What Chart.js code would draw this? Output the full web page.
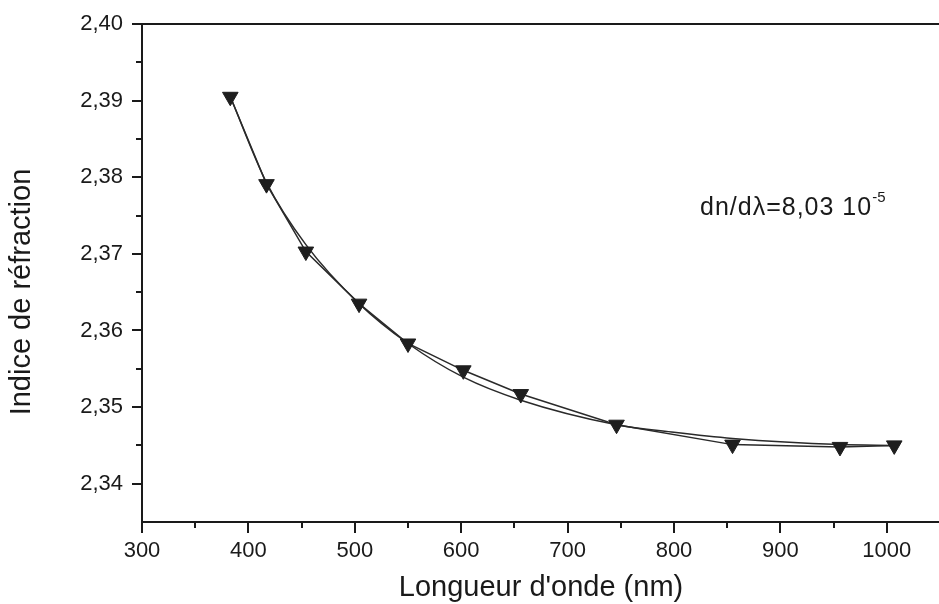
<!DOCTYPE html>
<html><head><meta charset="utf-8">
<script src="https://cdn.jsdelivr.net/npm/chart.js@4/dist/chart.umd.min.js"></script>
<style>
html,body{margin:0;padding:0;background:#fff;overflow:hidden;width:939px;height:604px}
#wrap{position:relative;width:950px;height:604px}
canvas{display:block}
</style></head>
<body><div id="wrap"><canvas id="c" width="950" height="604"></canvas></div>
<script>
// measured data (wavelength in nm, refractive index)
const wavelengths = [383, 417, 454, 504, 550, 602, 656, 746, 855, 956, 1007];
const refractiveIndex = [2.3905, 2.3791, 2.3703, 2.3635, 2.3583, 2.3548, 2.3517, 2.3477, 2.3451, 2.3448, 2.3450];
// fitted curve
const fitWavelengths = [383, 417, 454, 504, 550, 602, 656, 746, 800, 855, 956, 1007];
const fitIndex = [2.3905, 2.3793, 2.3712, 2.3635, 2.3583, 2.3539, 2.3509, 2.3477, 2.3467, 2.3459, 2.3451, 2.3450];
// axes
const xTicks = [300, 400, 500, 600, 700, 800, 900, 1000];
const xMinorTicks = [350, 450, 550, 650, 750, 850, 950, 1050];
const yTicks = [2.34, 2.35, 2.36, 2.37, 2.38, 2.39, 2.40];
const yMinorTicks = [2.345, 2.355, 2.365, 2.375, 2.385, 2.395];
const xTitle = "Longueur d'onde (nm)";
const yTitle = "Indice de réfraction";
const annotationMain = "dn/dλ=8,03 10";
const annotationSup = "-5";

const INK = '#1a1a1a';
const FONT = '"Liberation Sans", Arial, sans-serif';

const extrasPlugin = {
  id: 'extras',
  afterDraw(chart) {
    const ctx = chart.ctx;
    const xs = chart.scales.x, ys = chart.scales.y;
    const ca = chart.chartArea;
    ctx.save();
    ctx.strokeStyle = INK;
    ctx.lineWidth = 2;
    ctx.beginPath();
    xMinorTicks.forEach(v => {
      const px = Math.round(xs.getPixelForValue(v));
      ctx.moveTo(px, ca.bottom);
      ctx.lineTo(px, ca.bottom + 6);
    });
    yMinorTicks.forEach(v => {
      const py = Math.round(ys.getPixelForValue(v));
      ctx.moveTo(ca.left, py);
      ctx.lineTo(ca.left - 6, py);
    });
    ctx.stroke();
    // y title
    ctx.fillStyle = INK;
    ctx.font = '29px ' + FONT;
    ctx.textAlign = 'center';
    ctx.textBaseline = 'middle';
    ctx.translate(22, 292);
    ctx.rotate(-Math.PI / 2);
    ctx.fillText(yTitle, 0, 0);
    ctx.restore();
    // annotation
    ctx.save();
    ctx.fillStyle = INK;
    ctx.font = '25px ' + FONT;
    ctx.textAlign = 'left';
    ctx.textBaseline = 'alphabetic';
    try { ctx.letterSpacing = '1px'; } catch (e) {}
    ctx.fillText(annotationMain, 700, 215);
    const w = ctx.measureText(annotationMain).width;
    ctx.font = '15px ' + FONT;
    try { ctx.letterSpacing = '0px'; } catch (e) {}
    ctx.fillText(annotationSup, 700 + w, 202);
    ctx.restore();
  }
};

new Chart(document.getElementById('c'), {
  type: 'scatter',
  data: {
    datasets: [
      {
        label: 'fit',
        data: fitWavelengths.map((x, i) => ({x, y: fitIndex[i]})),
        showLine: true,
        borderColor: '#2a2a2a',
        borderWidth: 1.5,
        pointRadius: 0,
        cubicInterpolationMode: 'monotone',
        order: 2
      },
      {
        label: 'mesures',
        data: wavelengths.map((x, i) => ({x, y: refractiveIndex[i]})),
        showLine: true,
        borderColor: '#2a2a2a',
        borderWidth: 1.5,
        pointStyle: 'triangle',
        rotation: 180,
        pointRadius: 9,
        pointBackgroundColor: '#1e1e1e',
        pointBorderColor: '#1e1e1e',
        pointBorderWidth: 1,
        tension: 0,
        order: 1
      }
    ]
  },
  options: {
    responsive: false,
    animation: false,
    layout: {padding: {left: 0, right: 4, top: 24, bottom: 0}},
    plugins: {legend: {display: false}, tooltip: {enabled: false}},
    scales: {
      x: {
        type: 'linear', position: 'bottom', min: 300, max: 1050,
        afterBuildTicks: s => { s.ticks = xTicks.map(v => ({value: v})); },
        afterFit: s => { s.height = 82; },
        grid: {drawOnChartArea: false, drawTicks: true, tickLength: 11, color: INK, lineWidth: 2},
        border: {display: true, color: INK, width: 2},
        ticks: {color: INK, font: {family: FONT, size: 22}, padding: 5, maxRotation: 0, autoSkip: false,
                callback: v => String(v)},
        title: {display: true, text: xTitle, color: INK, font: {family: FONT, size: 29, lineHeight: 1.1}, padding: {top: 0, bottom: 0}}
      },
      x2: {
        type: 'linear', position: 'top', min: 300, max: 1050,
        afterFit: s => { s.height = 0; },
        grid: {display: true, drawOnChartArea: false, drawTicks: false},
        border: {display: true, color: INK, width: 2},
        ticks: {display: false}
      },
      y: {
        type: 'linear', position: 'left', min: 2.335, max: 2.40,
        afterBuildTicks: s => { s.ticks = yTicks.map(v => ({value: v})); },
        afterFit: s => { s.width = 142; },
        grid: {drawOnChartArea: false, drawTicks: true, tickLength: 10, color: INK, lineWidth: 2},
        border: {display: true, color: INK, width: 2},
        ticks: {color: INK, font: {family: FONT, size: 22}, padding: 9, autoSkip: false,
                callback: v => v.toFixed(2).replace('.', ',')}
      }
    }
  },
  plugins: [extrasPlugin]
});
</script>
</body></html>
